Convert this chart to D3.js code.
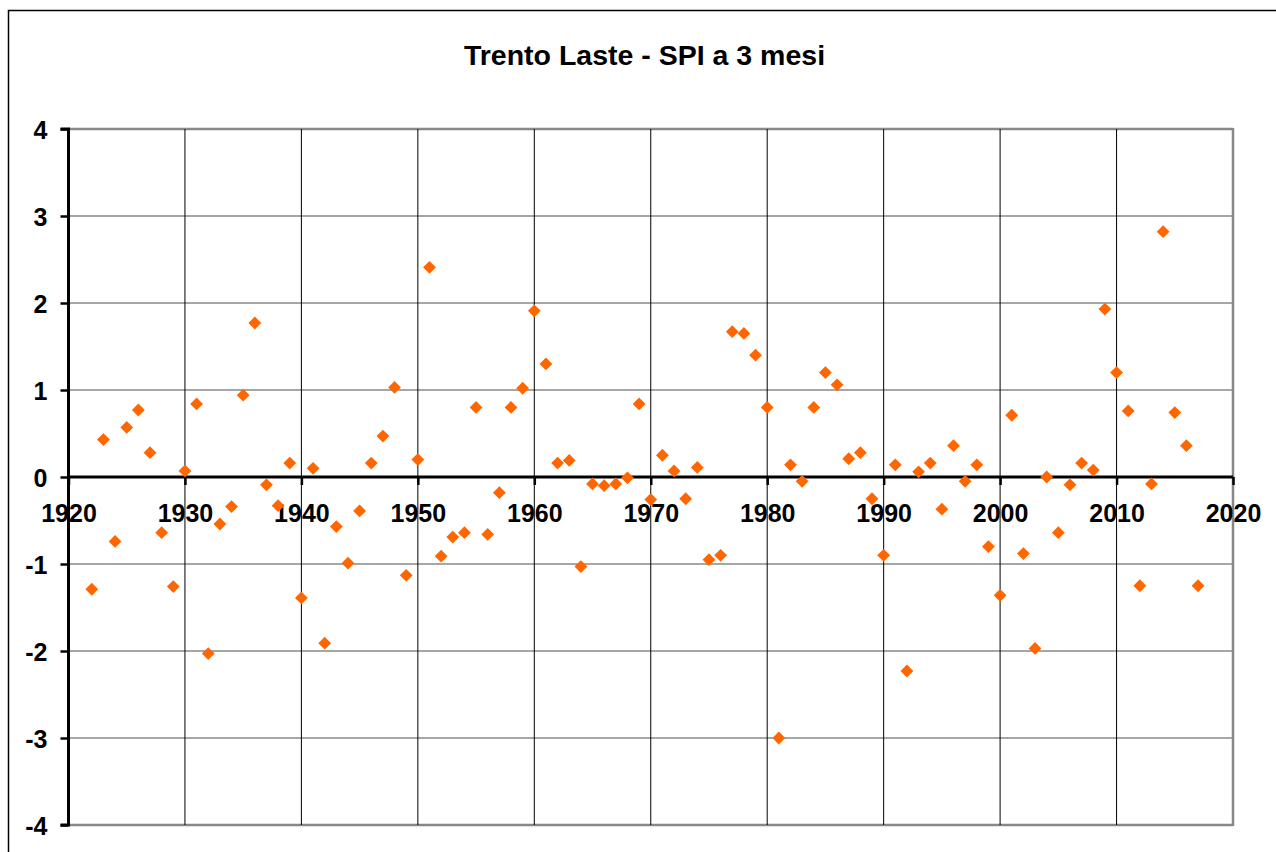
<!DOCTYPE html>
<html>
<head>
<meta charset="utf-8">
<script src="https://cdn.jsdelivr.net/npm/d3@7"></script>
<style>
  html, body { margin: 0; padding: 0; background: #fff; }
  svg { display: block; }
  text { font-family: Arial, "Liberation Sans", sans-serif; font-weight: bold; fill: #000; }
</style>
</head>
<body>
<svg id="chart" width="1276" height="852"></svg>
<script>
const title = "Trento Laste - SPI a 3 mesi";
const years = [1922,1923,1924,1925,1926,1927,1928,1929,1930,1931,1932,1933,1934,1935,1936,1937,1938,1939,1940,1941,1942,1943,1944,1945,1946,1947,1948,1949,1950,1951,1952,1953,1954,1955,1956,1957,1958,1959,1960,1961,1962,1963,1964,1965,1966,1967,1968,1969,1970,1971,1972,1973,1974,1975,1976,1977,1978,1979,1980,1981,1982,1983,1984,1985,1986,1987,1988,1989,1990,1991,1992,1993,1994,1995,1996,1997,1998,1999,2000,2001,2002,2003,2004,2005,2006,2007,2008,2009,2010,2011,2012,2013,2014,2015,2016,2017];
const spi = [-1.29,0.43,-0.74,0.57,0.77,0.28,-0.64,-1.26,0.07,0.84,-2.03,-0.54,-0.34,0.94,1.77,-0.09,-0.33,0.16,-1.39,0.10,-1.91,-0.57,-0.99,-0.39,0.16,0.47,1.03,-1.13,0.20,2.41,-0.91,-0.69,-0.64,0.80,-0.66,-0.18,0.80,1.02,1.91,1.30,0.16,0.19,-1.03,-0.08,-0.10,-0.08,-0.01,0.84,-0.26,0.25,0.07,-0.25,0.11,-0.95,-0.90,1.67,1.65,1.40,0.80,-3.00,0.14,-0.05,0.80,1.20,1.06,0.21,0.28,-0.25,-0.90,0.14,-2.23,0.06,0.16,-0.37,0.36,-0.05,0.14,-0.80,-1.36,0.71,-0.88,-1.97,0.00,-0.64,-0.09,0.16,0.08,1.93,1.20,0.76,-1.25,-0.08,2.82,0.74,0.36,-1.25];
const xTicks = [1920,1930,1940,1950,1960,1970,1980,1990,2000,2010,2020];
const yTicks = [-4,-3,-2,-1,0,1,2,3,4];

const svg = d3.select("#chart");
const L = 68.5, R = 1233, T = 129, B = 825;
const x = d3.scaleLinear().domain([1920, 2020]).range([L, R]);
const y = d3.scaleLinear().domain([-4, 4]).range([B, T]);

// outer frame
svg.append("path").attr("d", "M8.5,852 L8.5,10.5 L1276,10.5")
  .attr("fill", "none").attr("stroke", "#000").attr("stroke-width", 1.5);

// title
svg.append("text").attr("x", 644.5).attr("y", 65).attr("text-anchor", "middle")
  .style("font-size", "28.5px").text(title);

// horizontal gridlines
svg.append("g").selectAll("line").data(yTicks.filter(v => v !== 0)).join("line")
  .attr("x1", L).attr("x2", R).attr("y1", d => y(d)).attr("y2", d => y(d))
  .attr("stroke", "#888").attr("stroke-width", d => (d === 4 || d === -4) ? 2.5 : 1.5);

// vertical gridlines
svg.append("g").selectAll("line").data(xTicks.filter(v => v !== 1920 && v !== 2020)).join("line")
  .attr("x1", d => x(d)).attr("x2", d => x(d)).attr("y1", T).attr("y2", B)
  .attr("stroke", "#000").attr("stroke-width", 1);

// right border
svg.append("line").attr("x1", R).attr("x2", R).attr("y1", T - 1).attr("y2", B + 1)
  .attr("stroke", "#888").attr("stroke-width", 2.5);

const fmt = d => String(d);

// y axis
const yAxis = d3.axisLeft(y).tickValues(yTicks).tickSize(8).tickPadding(13).tickFormat(fmt);
const gy = svg.append("g").attr("transform", `translate(${L},0)`).call(yAxis);
gy.select(".domain").attr("stroke", "#000").attr("stroke-width", 3).attr("d", `M-8,${T}H0V${B}H-8`);
gy.selectAll(".tick line").attr("stroke", "#000").attr("stroke-width", 2.5);
gy.selectAll(".tick text").style("font-size", "25px").style("font-family", "Arial, 'Liberation Sans', sans-serif")
  .style("font-weight", "bold").attr("fill", "#000").attr("dy", "0.36em");

// x axis at zero
const xAxis = d3.axisBottom(x).tickValues(xTicks).tickSize(8).tickPadding(19).tickFormat(fmt);
const gx = svg.append("g").attr("transform", `translate(0,${y(0)})`).call(xAxis);
gx.select(".domain").attr("stroke", "#000").attr("stroke-width", 3).attr("d", `M${L},0H${R}`);
gx.selectAll(".tick line").attr("stroke", "#000").attr("stroke-width", 2.5);
gx.selectAll(".tick text").style("font-size", "25px").style("font-family", "Arial, 'Liberation Sans', sans-serif")
  .style("font-weight", "bold").attr("fill", "#000").attr("dy", "0.71em");

// points
const sym = d3.symbol().type(d3.symbolSquare).size(82);
svg.append("g").selectAll("path").data(years.map((yr, i) => ({yr, v: spi[i]}))).join("path")
  .attr("d", sym)
  .attr("transform", d => `translate(${x(d.yr)},${y(d.v)}) rotate(45)`)
  .attr("fill", "#FF6600");
</script>
</body>
</html>
